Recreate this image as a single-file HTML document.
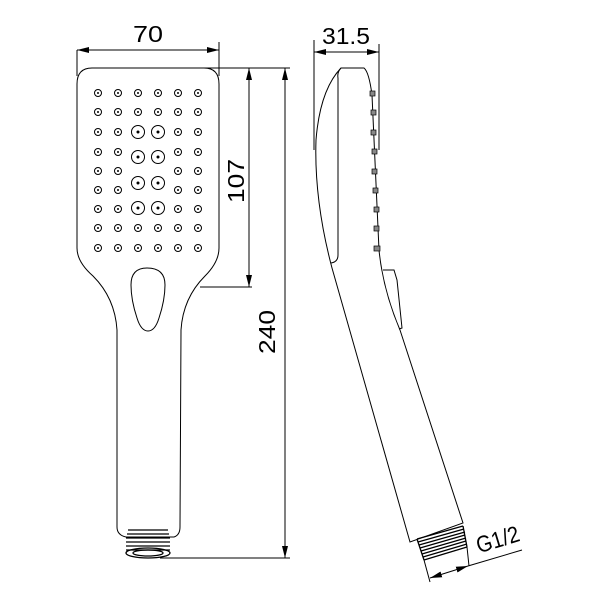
<!DOCTYPE html>
<html><head><meta charset="utf-8"><style>body{margin:0;background:#fff}svg{display:block}</style></head><body>
<svg width="600" height="600" viewBox="0 0 600 600" xmlns="http://www.w3.org/2000/svg" font-family="Liberation Sans, sans-serif">
<defs>
<marker id="a" markerWidth="12" markerHeight="6" refX="12" refY="3" orient="auto" markerUnits="userSpaceOnUse"><path d="M0,0 L12,3 L0,6 Z" fill="#000"/></marker>
<marker id="b" markerWidth="12" markerHeight="6" refX="0" refY="3" orient="auto" markerUnits="userSpaceOnUse"><path d="M12,0 L0,3 L12,6 Z" fill="#000"/></marker>
</defs>
<g fill="none" stroke="#000" stroke-width="1">
<path d="M92,68 L204,68 Q219,68 219,84 L219,248 Q219,262 205,276 Q183,298 181,330 L180,527 Q180,535 174,537 L126,537 Q117,535 117,527 L117,330 Q115,298 93,276 Q77,262 77,248 L77,84 Q77,68 92,68 Z"/>
<path d="M147,268 Q131,268 131,285 Q131,300 137,318 Q141,331 148,331 Q155,331 159,318 Q165,300 165,285 Q165,268 147,268 Z"/>
<g stroke-width="1.3">
<path d="M128,530 L168,530 M127,534 L169,534 M126,538 L170,538 M126,542 L170,542 M126,546 L170,546 M126,550 L170,550"/>
<ellipse cx="148" cy="553" rx="22" ry="5"/>
<ellipse cx="148" cy="553" rx="15" ry="3"/>
</g>
<path d="M77,50 L77,76 M219,42 L219,76"/>
<line x1="77" y1="50" x2="219" y2="50" marker-start="url(#b)" marker-end="url(#a)"/>
<path d="M204,68 L290,68 M200,287 L252,287 M160,558 L290,558"/>
<line x1="249" y1="68" x2="249" y2="287" marker-start="url(#b)" marker-end="url(#a)"/>
<line x1="285" y1="68" x2="285" y2="558" marker-start="url(#b)" marker-end="url(#a)"/>
<path d="M341,68 L364,68 Q369,72 372,95 L379,250 Q383,290 400,330 L463,523 L410,542 L332,268 Q314,200 316,140 Q320,90 341,68 Z"/>
<path d="M341,68 Q337,72 338,78 L338,255 Q338,262 331,263"/>
<path d="M383,270 L394,270 L397,280 L402,328 L399,329"/>
<path d="M314,40 L314,150 M379,44 L379,150"/>
<line x1="314" y1="52" x2="379" y2="52" marker-start="url(#b)" marker-end="url(#a)"/>
<g stroke-width="1.3">
<path d="M417,539 L463,526 M418,542 L464,529 M419,545 L465,532 M420,548 L465,535 M421,551 L466,538 M422,554 L466,541 M423,557 L467,544 M424,560 L467,547 M417,539 L424,560 M463,526 L467,547"/>
</g>
<path d="M424,560 L430,582 M467,547 L469,566"/>
<line x1="430" y1="578" x2="468" y2="566" marker-start="url(#b)" marker-end="url(#a)"/>
<line x1="468" y1="566" x2="522" y2="550"/>
</g>
<g fill="#888" stroke="#000" stroke-width="0.7">
<rect x="370" y="91" width="5" height="5"/><rect x="371" y="110" width="5" height="5"/><rect x="371" y="130" width="5" height="5"/><rect x="372" y="149" width="5" height="5"/><rect x="372" y="169" width="5" height="5"/><rect x="373" y="188" width="5" height="5"/><rect x="374" y="207" width="5" height="5"/><rect x="374" y="226" width="5" height="5"/><rect x="374" y="246" width="6" height="5"/>
</g>
<g fill="none" stroke="#000" stroke-width="1">
<circle cx="98" cy="93" r="3.5"/><circle cx="118" cy="93" r="3.5"/><circle cx="138" cy="93" r="3.5"/><circle cx="158" cy="93" r="3.5"/><circle cx="178" cy="93" r="3.5"/><circle cx="198" cy="93" r="3.5"/>
<circle cx="98" cy="112" r="3.5"/><circle cx="118" cy="112" r="3.5"/><circle cx="138" cy="112" r="3.5"/><circle cx="158" cy="112" r="3.5"/><circle cx="178" cy="112" r="3.5"/><circle cx="198" cy="112" r="3.5"/>
<circle cx="98" cy="132" r="3.5"/><circle cx="118" cy="132" r="3.5"/><circle cx="178" cy="132" r="3.5"/><circle cx="198" cy="132" r="3.5"/>
<circle cx="98" cy="152" r="3.5"/><circle cx="118" cy="152" r="3.5"/><circle cx="178" cy="152" r="3.5"/><circle cx="198" cy="152" r="3.5"/>
<circle cx="98" cy="171" r="3.5"/><circle cx="118" cy="171" r="3.5"/><circle cx="178" cy="171" r="3.5"/><circle cx="198" cy="171" r="3.5"/>
<circle cx="98" cy="190" r="3.5"/><circle cx="118" cy="190" r="3.5"/><circle cx="178" cy="190" r="3.5"/><circle cx="198" cy="190" r="3.5"/>
<circle cx="98" cy="209" r="3.5"/><circle cx="118" cy="209" r="3.5"/><circle cx="178" cy="209" r="3.5"/><circle cx="198" cy="209" r="3.5"/>
<circle cx="98" cy="228" r="3.5"/><circle cx="118" cy="228" r="3.5"/><circle cx="138" cy="228" r="3.5"/><circle cx="158" cy="228" r="3.5"/><circle cx="178" cy="228" r="3.5"/><circle cx="198" cy="228" r="3.5"/>
<circle cx="98" cy="248" r="3.5"/><circle cx="118" cy="248" r="3.5"/><circle cx="138" cy="248" r="3.5"/><circle cx="158" cy="248" r="3.5"/><circle cx="178" cy="248" r="3.5"/><circle cx="198" cy="248" r="3.5"/>
<circle cx="138" cy="132" r="6.5"/><circle cx="158" cy="132" r="6.5"/>
<circle cx="138" cy="157" r="6.5"/><circle cx="158" cy="157" r="6.5"/>
<circle cx="138" cy="183" r="6.5"/><circle cx="158" cy="183" r="6.5"/>
<circle cx="138" cy="208" r="6.5"/><circle cx="158" cy="208" r="6.5"/>
</g>
<g fill="#000">
<circle cx="98" cy="93" r="1"/><circle cx="118" cy="93" r="1"/><circle cx="138" cy="93" r="1"/><circle cx="158" cy="93" r="1"/><circle cx="178" cy="93" r="1"/><circle cx="198" cy="93" r="1"/>
<circle cx="98" cy="112" r="1"/><circle cx="118" cy="112" r="1"/><circle cx="138" cy="112" r="1"/><circle cx="158" cy="112" r="1"/><circle cx="178" cy="112" r="1"/><circle cx="198" cy="112" r="1"/>
<circle cx="98" cy="132" r="1"/><circle cx="118" cy="132" r="1"/><circle cx="178" cy="132" r="1"/><circle cx="198" cy="132" r="1"/>
<circle cx="98" cy="152" r="1"/><circle cx="118" cy="152" r="1"/><circle cx="178" cy="152" r="1"/><circle cx="198" cy="152" r="1"/>
<circle cx="98" cy="171" r="1"/><circle cx="118" cy="171" r="1"/><circle cx="178" cy="171" r="1"/><circle cx="198" cy="171" r="1"/>
<circle cx="98" cy="190" r="1"/><circle cx="118" cy="190" r="1"/><circle cx="178" cy="190" r="1"/><circle cx="198" cy="190" r="1"/>
<circle cx="98" cy="209" r="1"/><circle cx="118" cy="209" r="1"/><circle cx="178" cy="209" r="1"/><circle cx="198" cy="209" r="1"/>
<circle cx="98" cy="228" r="1"/><circle cx="118" cy="228" r="1"/><circle cx="138" cy="228" r="1"/><circle cx="158" cy="228" r="1"/><circle cx="178" cy="228" r="1"/><circle cx="198" cy="228" r="1"/>
<circle cx="98" cy="248" r="1"/><circle cx="118" cy="248" r="1"/><circle cx="138" cy="248" r="1"/><circle cx="158" cy="248" r="1"/><circle cx="178" cy="248" r="1"/><circle cx="198" cy="248" r="1"/>
<circle cx="138" cy="132" r="1.5"/><circle cx="158" cy="132" r="1.5"/><circle cx="138" cy="157" r="1.5"/><circle cx="158" cy="157" r="1.5"/><circle cx="138" cy="183" r="1.5"/><circle cx="158" cy="183" r="1.5"/><circle cx="138" cy="208" r="1.5"/><circle cx="158" cy="208" r="1.5"/>
</g>
<g font-size="23" fill="#000">
<text x="148" y="42" text-anchor="middle" textLength="30" lengthAdjust="spacingAndGlyphs">70</text>
<text x="346" y="44" text-anchor="middle" textLength="48" lengthAdjust="spacingAndGlyphs">31.5</text>
<text transform="translate(244,181) rotate(-90)" text-anchor="middle" textLength="44" lengthAdjust="spacingAndGlyphs">107</text>
<text transform="translate(275,332) rotate(-90)" text-anchor="middle" textLength="44" lengthAdjust="spacingAndGlyphs">240</text>
<text transform="translate(500,547) rotate(-17)" text-anchor="middle" textLength="44" lengthAdjust="spacingAndGlyphs">G1/2</text>
</g>
</svg>
</body></html>
